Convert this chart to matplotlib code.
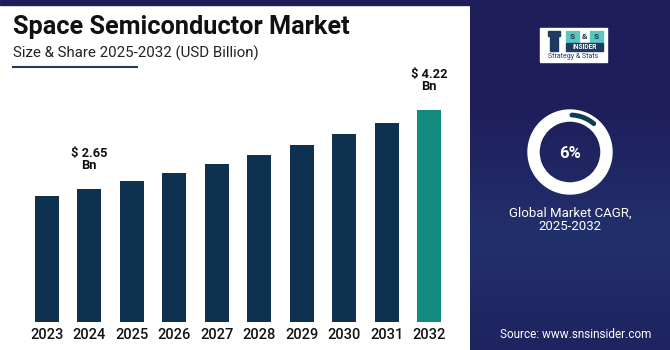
import matplotlib
matplotlib.use("Agg")
import matplotlib.pyplot as plt
import numpy as np
from matplotlib.patches import Rectangle, Wedge
from matplotlib.colors import LinearSegmentedColormap

plt.rcParams['font.family'] = ['Roboto', 'DejaVu Sans']

years = ["2023", "2024", "2025", "2026", "2027", "2028", "2029", "2030", "2031", "2032"]
values = [2.51, 2.65, 2.81, 2.97, 3.14, 3.33, 3.51, 3.73, 3.95, 4.22]
labeled = {"2024": "$ 2.65\nBn", "2032": "$ 4.22\nBn"}
cagr_pct = 6

title = "Space Semiconductor Market"
subtitle = "Size & Share 2025-2032 (USD Billion)"
cagr_label = "Global Market CAGR,\n2025-2032"
source = "Source: www.snsinsider.com"

W, H = 670, 350
fig = plt.figure(figsize=(W / 100, H / 100), dpi=100)
fig.patch.set_facecolor("white")

bg = fig.add_axes([0, 0, 1, 1])
bg.set_xlim(0, W)
bg.set_ylim(H, 0)
bg.axis("off")

grad = np.linspace(0, 1, 256).reshape(-1, 1)
cmap = LinearSegmentedColormap.from_list("panel", ["#1f1d5a", "#1f1f5c", "#22306c", "#1e2460"])
bg.imshow(grad, extent=(470, W, H, 0), cmap=cmap, aspect="auto", zorder=0)
bg.add_patch(Rectangle((0, 0), W, 5, color="#1f1d5a", zorder=1))

bg.text(13, 27, title, fontsize=18.2, fontweight="bold", color="#111111", va="center", ha="left")
bg.text(13, 53, subtitle, fontsize=10.8, color="#222222", va="center", ha="left")
bg.plot([13, 137], [67, 67], color="#1f3a5f", lw=1.5)

# logo
bg.add_patch(Rectangle((540, 28), 67, 34, color="white", zorder=2))
bg.add_patch(Rectangle((566, 31), 13, 11, color="#5bc8c0", zorder=3))
bg.add_patch(Rectangle((590, 31), 13, 11, color="#5bc8c0", zorder=3))
bg.text(572.5, 36.5, "S", fontsize=6, fontweight="bold", color="#1f3a5f", ha="center", va="center", zorder=4)
bg.text(584.5, 36.5, "&", fontsize=6, fontweight="bold", color="#1f3a5f", ha="center", va="center", zorder=4)
bg.text(596.5, 36.5, "S", fontsize=6, fontweight="bold", color="#1f3a5f", ha="center", va="center", zorder=4)
bg.add_patch(Rectangle((566, 43), 37, 8, color="#1f3a5f", zorder=3))
bg.text(584.5, 47, "INSIDER", fontsize=4.8, fontweight="bold", color="white", ha="center", va="center", zorder=4)
bg.add_patch(Rectangle((550, 35), 8, 16, color="#1f3a5f", zorder=3))
bg.add_patch(Rectangle((548, 31), 12, 5, color="#1f3a5f", zorder=3))
bg.text(573.5, 57, "Strategy & Stats", fontsize=5, color="#1f3a5f", ha="center", va="center", zorder=4)

# donut
cx, cy = 570, 152
bg.add_patch(Wedge((cx, cy), 42, 0, 360, width=11, color="white", zorder=2))
theta = np.linspace(np.deg2rad(87), np.deg2rad(50), 50)
bg.plot(cx + 37 * np.cos(theta), cy - 37 * np.sin(theta), color="#0f3c52", lw=3.5,
        solid_capstyle="round", zorder=3)
bg.text(cx, cy + 1, f"{cagr_pct}%", fontsize=12, fontweight="bold", color="white", ha="center", va="center")
bg.text(cx, 220, cagr_label, fontsize=9.5, color="white", ha="center", va="center", linespacing=1.0)
bg.text(500, 334, source, fontsize=8.5, color="white", ha="left", va="center")

# bar axes
L, R, T, B = 20, 460, 70, 322
ax = fig.add_axes([L / W, 1 - B / H, (R - L) / W, (B - T) / H])
ax.set_facecolor("none")
x = np.arange(len(years))
colors = ["#0f3150"] * (len(years) - 1) + ["#138a80"]
ax.bar(x, values, width=0.565, color=colors, zorder=2)
ax.set_xlim(-0.628, 9.729)
ax.set_ylim(0, 5.01)
ax.set_xticks(x)
ax.set_xticklabels(years, fontsize=10.5, fontweight="medium", color="#111111")
ax.tick_params(axis="x", length=0, pad=4)
ax.set_yticks([])
for s in ax.spines.values():
    s.set_visible(False)
for i, yv in enumerate(years):
    if yv in labeled:
        ax.annotate(labeled[yv], (x[i], values[i]), xytext=(0, 12), textcoords="offset points",
                    ha="center", va="bottom", fontsize=9.3, fontweight="bold", color="#111111",
                    linespacing=0.95)

fig.savefig("out.png", dpi=100, facecolor=fig.get_facecolor())
